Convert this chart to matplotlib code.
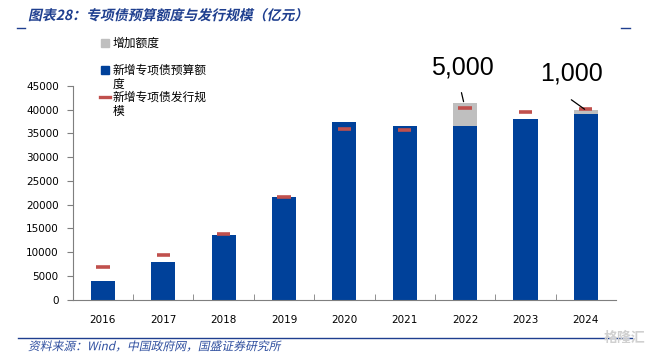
import numpy as np
import matplotlib
matplotlib.use('Agg')
import matplotlib.pyplot as plt
from matplotlib.lines import Line2D
from matplotlib.patches import Rectangle, PathPatch
from matplotlib.textpath import TextPath
from matplotlib.font_manager import FontProperties
from matplotlib.transforms import Affine2D, IdentityTransform

plt.rcParams['font.family'] = ['Noto Sans CJK SC', 'DejaVu Sans']

# data (亿元)
years = ['2016', '2017', '2018', '2019', '2020', '2021', '2022', '2023', '2024']
budget = [4000, 8000, 13500, 21500, 37500, 36500, 36500, 38000, 39000]   # 新增专项债预算额度
extra = [0, 0, 0, 0, 0, 0, 5000, 0, 1000]                                # 增加额度
issued = [6800, 9400, 13900, 21500, 36000, 35800, 40400, 39500, 40100]   # 新增专项债发行规模
notes = {6: '5,000', 8: '1,000'}

blue = '#00419A'
gray = '#BFBFBF'
red = '#C0504D'
navy = '#1F3F8F'

W, H = 651, 354
DPI = 100
fig = plt.figure(figsize=(W / DPI, H / DPI), dpi=DPI)
ax = fig.add_axes([72.7 / W, 1 - 299.5 / H, (616 - 72.7) / W, 213.5 / H])

x = np.arange(len(years))
ax.bar(x, budget, width=0.4, color=blue, zorder=2)
ax.bar(x, extra, width=0.4, bottom=budget, color=gray, zorder=2)
ax.hlines(issued, x - 0.11, x + 0.11, color=red, linewidth=2.6, zorder=3)

# callouts for the added quota
tops = np.array(budget) + np.array(extra)
ax.text(5.96, 48800, notes[6], ha='center', va='center', fontsize=18,
        family='Liberation Sans', clip_on=False)
ax.annotate('', xy=(5.975, tops[6] + 200), xytext=(5.94, 43600),
            annotation_clip=False,
            arrowprops=dict(arrowstyle='-', color='black', lw=0.9,
                            shrinkA=0, shrinkB=0))
ax.text(7.76, 47700, notes[8], ha='center', va='center', fontsize=18,
        family='Liberation Sans', clip_on=False)
ax.annotate('', xy=(7.98, tops[8] + 100), xytext=(7.76, 42100),
            annotation_clip=False,
            arrowprops=dict(arrowstyle='-', color='black', lw=0.9,
                            shrinkA=0, shrinkB=0))

ax.set_xlim(-0.5, len(years) - 0.5)
ax.set_ylim(0, 45000)
ax.set_yticks(np.arange(0, 45001, 5000))
ax.set_xticks(x)
ax.set_xticklabels(years, family='DejaVu Sans', fontsize=7.5)
for lab in ax.get_yticklabels():
    lab.set_family('DejaVu Sans')
    lab.set_fontsize(7.5)
ax.set_xticks(np.arange(0.5, len(years) - 1, 1), minor=True)
ax.tick_params(axis='x', which='major', length=0, pad=11)
ax.tick_params(axis='x', which='minor', direction='in', length=4, color='#7f7f7f')
ax.tick_params(axis='y', direction='out', length=4, color='#7f7f7f', pad=6)
for s in ['top', 'right']:
    ax.spines[s].set_visible(False)
for s in ['left', 'bottom']:
    ax.spines[s].set_color('#7f7f7f')

# legend drawn by hand (labels wrap like the original)
leg_fs = 8.5
fig.patches.append(Rectangle((101 / W, 1 - 47 / H), 8 / W, 8 / H, color=gray,
                             transform=fig.transFigure))
fig.text(113 / W, 1 - 43 / H, '增加额度', fontsize=leg_fs, va='center')
fig.patches.append(Rectangle((101 / W, 1 - 74 / H), 8 / W, 8 / H, color=blue,
                             transform=fig.transFigure))
fig.text(113 / W, 1 - 70 / H, '新增专项债预算额', fontsize=leg_fs, va='center')
fig.text(113 / W, 1 - 84 / H, '度', fontsize=leg_fs, va='center')
fig.lines.append(Line2D([100 / W, 110 / W], [1 - 97 / H] * 2, color=red, lw=2.4,
                        transform=fig.transFigure))
fig.text(113 / W, 1 - 97 / H, '新增专项债发行规', fontsize=leg_fs, va='center')
fig.text(113 / W, 1 - 111 / H, '模', fontsize=leg_fs, va='center')


def slanted(px, py, s, size, color, weight='normal'):
    # italic look: text outline sheared to the right, placed in pixel coords
    fp = FontProperties(family='Noto Sans CJK SC', weight=weight)
    path = TextPath((0, 0), s, size=size, prop=fp)
    k = DPI / 72
    tr = (Affine2D().skew_deg(12, 0).scale(k)
          .translate(px, H - py - 0.36 * size * k))
    fig.patches.append(PathPatch(path, transform=tr + IdentityTransform(),
                                 facecolor=color, edgecolor='none'))


# title, frame marks and source
slanted(28, 15, '图表28：专项债预算额度与发行规模（亿元）', 10, navy, 'bold')
fig.lines.append(Line2D([17 / W, 25 / W], [1 - 28 / H] * 2, color=navy, lw=1,
                        transform=fig.transFigure))
fig.lines.append(Line2D([621 / W, 630 / W], [1 - 28 / H] * 2, color=navy, lw=1,
                        transform=fig.transFigure))
fig.lines.append(Line2D([18 / W, 632 / W], [1 - 338 / H] * 2, color=navy, lw=1,
                        transform=fig.transFigure))
slanted(28, 346, '资料来源：Wind，中国政府网，国盛证券研究所', 8.5, '#2F4F9F')
fig.text(645 / W, 1 - 338 / H, '格隆汇', fontsize=10, color='#d0d0d0',
         ha='right', va='center', fontweight='bold')

fig.savefig('out.png', dpi=DPI)
